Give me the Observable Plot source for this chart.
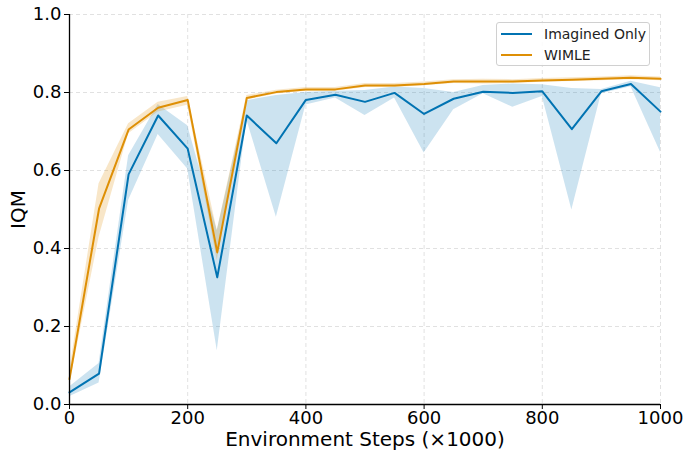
<!DOCTYPE html>
<html>
<head>
<meta charset="utf-8">
<script src="https://cdn.jsdelivr.net/npm/d3@7"></script>
<script src="https://cdn.jsdelivr.net/npm/@observablehq/plot@0.6"></script>
<style>
  html, body { margin: 0; padding: 0; background: white; }
  #wrap { position: relative; width: 688px; height: 451px; font-family: "DejaVu Sans", sans-serif; }
  #legend { position: absolute; left: 496px; top: 22px; width: 154px; height: 44px;
    border: 1px solid #d0d0d0; border-radius: 3px; background: rgba(255,255,255,0.85);
    font-size: 14px; color: #222; box-sizing: border-box; }
  .item { position: absolute; left: 4px; height: 20px; display: flex; align-items: center; }
  .swatch { width: 31px; height: 0; border-top: 2px solid; margin-right: 12px; }
</style>
</head>
<body>
<div id="wrap">
  <div id="chart"></div>
  <div id="legend">
    <div class="item" style="top:1px"><span class="swatch" style="border-color:#0173B2"></span><span>Imagined Only</span></div>
    <div class="item" style="top:22px"><span class="swatch" style="border-color:#DE8F05"></span><span>WIMLE</span></div>
  </div>
</div>
<script>
const steps = [0,50,100,150,200,250,300,350,400,450,500,550,600,650,700,750,800,850,900,950,1000];

const imaginedMean = [0.031,0.079,0.590,0.741,0.656,0.326,0.741,0.670,0.781,0.794,0.776,0.799,0.745,0.784,0.802,0.799,0.803,0.706,0.803,0.822,0.751];
const imaginedLow  = [0.020,0.055,0.523,0.692,0.604,0.138,0.730,0.480,0.768,0.786,0.741,0.786,0.645,0.756,0.797,0.762,0.790,0.499,0.797,0.815,0.647];
const imaginedHigh = [0.045,0.105,0.638,0.769,0.715,0.446,0.779,0.792,0.800,0.803,0.805,0.814,0.810,0.800,0.818,0.822,0.820,0.810,0.808,0.829,0.812];

const wimleMean = [0.065,0.502,0.705,0.761,0.781,0.390,0.786,0.801,0.808,0.808,0.818,0.818,0.822,0.828,0.828,0.828,0.831,0.833,0.835,0.838,0.835];
const wimleLow  = [0.050,0.429,0.694,0.750,0.767,0.369,0.781,0.796,0.803,0.803,0.813,0.813,0.817,0.823,0.822,0.823,0.826,0.828,0.830,0.833,0.830];
const wimleHigh = [0.085,0.566,0.720,0.775,0.790,0.446,0.792,0.806,0.813,0.813,0.823,0.823,0.827,0.833,0.834,0.833,0.836,0.838,0.840,0.843,0.840];

const xTicks = [0,200,400,600,800,1000];
const yTicks = [0,0.2,0.4,0.6,0.8,1.0];

const imagined = steps.map((s,i) => ({x:s, m:imaginedMean[i], lo:imaginedLow[i], hi:imaginedHigh[i]}));
const wimle = steps.map((s,i) => ({x:s, m:wimleMean[i], lo:wimleLow[i], hi:wimleHigh[i]}));

const blue = "#0173B2", orange = "#DE8F05";

const chart = Plot.plot({
  width: 688, height: 451,
  marginLeft: 69, marginRight: 28, marginTop: 14, marginBottom: 47,
  style: { fontFamily: "DejaVu Sans", fontSize: "18px", color: "black", background: "white" },
  x: { domain: [0, 1000] },
  y: { domain: [0, 1] },
  marks: [
    Plot.gridX(xTicks, { stroke: "#d9d9d9", strokeOpacity: 1, strokeDasharray: "4,3", strokeWidth: 0.8 }),
    Plot.gridY(yTicks, { stroke: "#d9d9d9", strokeOpacity: 1, strokeDasharray: "4,3", strokeWidth: 0.8 }),
    Plot.areaY(imagined, { x: "x", y1: "lo", y2: "hi", fill: blue, fillOpacity: 0.2 }),
    Plot.line(imagined, { x: "x", y: "m", stroke: blue, strokeWidth: 2 }),
    Plot.areaY(wimle, { x: "x", y1: "lo", y2: "hi", fill: orange, fillOpacity: 0.22 }),
    Plot.line(wimle, { x: "x", y: "m", stroke: orange, strokeWidth: 2 }),
    Plot.axisX({ ticks: xTicks, tickSize: 5, tickPadding: 2, fontSize: 18, tickFormat: d3.format("d"), label: null }),
    Plot.axisX({ ticks: [], tickSize: 0, fontSize: 20,
      label: "Environment Steps (×1000)", labelAnchor: "center", labelArrow: "none", labelOffset: 41 }),
    Plot.axisY({ ticks: yTicks, tickSize: 5, tickPadding: 3, fontSize: 18, tickFormat: d3.format(".1f"), label: null }),
    Plot.axisY({ ticks: [], tickSize: 0, fontSize: 20,
      label: "IQM", labelAnchor: "center", labelArrow: "none", labelOffset: 59 }),
    Plot.ruleX([0], { stroke: "black", strokeWidth: 1.3 }),
    Plot.ruleY([0], { stroke: "black", strokeWidth: 1.3 })
  ]
});
document.getElementById("chart").appendChild(chart);
</script>
</body>
</html>
